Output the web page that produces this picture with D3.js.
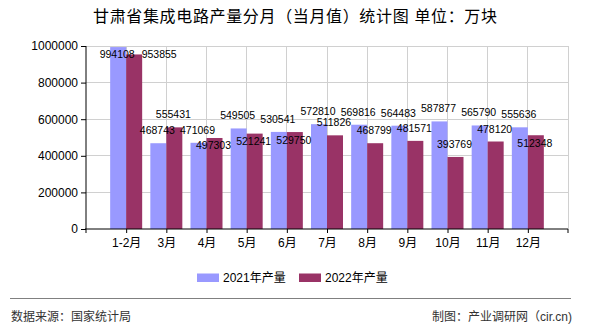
<!DOCTYPE html>
<html><head><meta charset="utf-8">
<script src="https://cdn.jsdelivr.net/npm/d3@7"></script>
<style>
html,body{margin:0;padding:0;background:#fff;}
text{font-family:"Liberation Sans","Noto Sans CJK SC",sans-serif;}
</style>
</head><body>
<svg id="chart" width="590" height="330"></svg>
<script>
const categories = ["1-2月","3月","4月","5月","6月","7月","8月","9月","10月","11月","12月"];
const values2021 = [994108,468743,471069,549505,530541,572810,569816,564483,587877,565790,555636];
const values2022 = [953855,555431,497303,521241,529750,511826,468799,481571,393769,478120,512348];
const seriesNames = ["2021年产量","2022年产量"];
const yTicks = [0,200000,400000,600000,800000,1000000];
const titleText = "甘肃省集成电路产量分月（当月值）统计图 单位：万块";
const sourceText = "数据来源：国家统计局";
const creditText = "制图：产业调研网（cir.cn)";

const colors = ["#9999ff","#993366"];
const svg = d3.select("#chart");
const L = 86, R = 568, T = 46, B = 229;

const x = d3.scalePoint().domain(categories).range([L, R]).padding(1);
const y = d3.scaleLinear().domain([0, 1000000]).range([B, T]);
const bw = 16;

// title
svg.append("text").attr("x", 295).attr("y", 22).attr("text-anchor","middle")
  .attr("font-size", 16).attr("fill","#000")
  .attr("textLength", 404).attr("lengthAdjust","spacing")
  .text(titleText);

// grid
const g = svg.append("g");
g.selectAll(".hg").data(yTicks.filter(d=>d>0)).join("line")
  .attr("x1", L).attr("x2", R).attr("y1", d=>y(d)).attr("y2", d=>y(d))
  .attr("stroke","#d0d0d0").attr("stroke-width",1).attr("shape-rendering","crispEdges");
g.selectAll(".vg").data(categories).join("line")
  .attr("x1", d=>x(d)).attr("x2", d=>x(d)).attr("y1", T).attr("y2", B)
  .attr("stroke","#d0d0d0").attr("stroke-width",1).attr("shape-rendering","crispEdges");
g.append("line").attr("x1",R).attr("x2",R).attr("y1",T).attr("y2",B)
  .attr("stroke","#d0d0d0").attr("shape-rendering","crispEdges");

// bars
const series = [values2021, values2022];
series.forEach((vals, si) => {
  svg.append("g").selectAll("rect").data(vals).join("rect")
    .attr("x", (d,i) => x(categories[i]) - bw + si*bw)
    .attr("y", d => y(d))
    .attr("width", bw)
    .attr("height", d => B - y(d))
    .attr("fill", colors[si]);
});

// axes
const yAxis = d3.axisLeft(y).tickValues(yTicks).tickFormat(d3.format("d")).tickSize(5).tickPadding(3);
const ya = svg.append("g").attr("transform",`translate(${L},0)`).call(yAxis);
ya.select(".domain").attr("d", `M0,${T}V${B+4}`);
ya.selectAll("text").attr("font-size",12).attr("fill","#000");
ya.selectAll("line").attr("stroke","#000");

const xAxis = d3.axisBottom(x).tickSize(4).tickPadding(3);
const xa = svg.append("g").attr("transform",`translate(0,${B})`).call(xAxis);
xa.select(".domain").attr("d", `M${L-1},0H${R}V4`);
xa.selectAll("text").attr("font-size",12).attr("fill","#000").attr("dy","0.9em");
xa.selectAll("line").attr("stroke","#000");

// value labels with simple collision handling
const lab = svg.append("g").attr("font-size",10.5).attr("fill","#000").attr("text-anchor","middle");
categories.forEach((c, i) => {
  const cx = x(c);
  const v1 = values2021[i], v2 = values2022[i];
  let x1 = cx - bw/2 - 1, x2 = cx + bw/2 - 1;
  let b1 = y(v1) - 9, b2 = y(v2) - 9;
  let c1 = false, c2 = false;
  if (b1 - 10 < T) { b1 = T + 12; c1 = true; }
  if (b2 - 10 < T) { b2 = T + 12; c2 = true; }
  if (Math.abs(b2 - b1) < 10) {
    if (c2) { x2 = x1 + 42; }
    else { b2 = y(v2) + 11.5; }
  }
  lab.append("text").attr("x", x1).attr("y", b1).text(v1);
  lab.append("text").attr("x", x2).attr("y", b2).text(v2);
});

// legend
const leg = svg.append("g");
const legX = [197, 299];
seriesNames.forEach((n, i) => {
  leg.append("rect").attr("x", legX[i]).attr("y", 273.5).attr("width", 22).attr("height", 8.5).attr("fill", colors[i]);
  leg.append("text").attr("x", legX[i] + 26).attr("y", 282).attr("font-size", 12).attr("fill","#000").text(n);
});

// footer
svg.append("line").attr("x1",10).attr("x2",571).attr("y1",298.5).attr("y2",298.5)
  .attr("stroke","#808080").attr("stroke-width",1.2);
svg.append("text").attr("x",11).attr("y",321).attr("font-size",12).attr("fill","#333").text(sourceText);
svg.append("text").attr("x",572).attr("y",321).attr("font-size",12).attr("fill","#333")
  .attr("text-anchor","end").text(creditText);
</script>
</body></html>
